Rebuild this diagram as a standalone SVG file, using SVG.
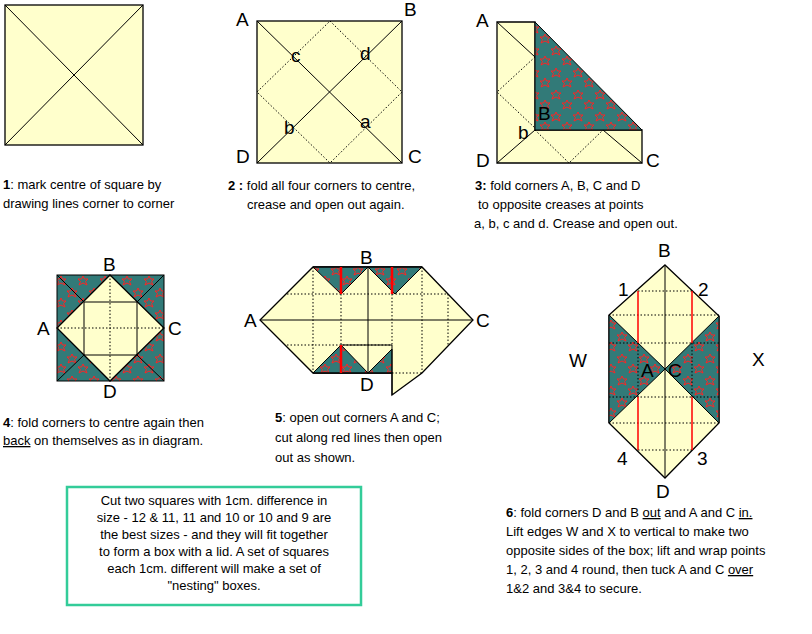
<svg xmlns="http://www.w3.org/2000/svg" width="812" height="634" viewBox="0 0 812 634">
<defs>
<pattern id="stars" width="22" height="22" patternUnits="userSpaceOnUse">
<rect width="22" height="22" fill="#327a78"/>
<path d="M6 2 L7.5 5 L11 5 L8.5 7.5 L10 11 L6 9 L2 11 L3.5 7.5 L1 5 L4.5 5 Z" fill="none" stroke="#f22" stroke-width="1"/>
<path d="M17 12 L18.5 15 L22 15 L19.5 17.5 L21 21 L17 19 L13 21 L14.5 17.5 L12 15 L15.5 15 Z" fill="none" stroke="#f22" stroke-width="1"/>
</pattern>
<style>
.p{fill:#ffffcc;stroke:#000;stroke-width:1.3}
.t{fill:url(#stars);stroke:#000;stroke-width:1}
.l{stroke:#000;stroke-width:1;fill:none}
.d{stroke:#000;stroke-width:1;stroke-dasharray:1.5 2;fill:none}
.r{stroke:#f00;stroke-width:2.5}
.rt{stroke:#f00;stroke-width:1.5}
text{font-family:"Liberation Sans",Arial,sans-serif;font-size:13px;fill:#000}
.big{font-size:19px}
</style>
</defs>

<g id="step1">
<rect class="p" x="5" y="5" width="138" height="140"/>
<path class="l" d="M5 5 L143 145 M143 5 L5 145"/>
<text x="3" y="189"><tspan font-weight="bold">1</tspan>: mark centre of square by</text>
<text x="3" y="208">drawing lines corner to corner</text>
</g>

<g id="step2">
<rect class="p" x="257" y="21" width="145" height="142"/>
<path class="l" d="M257 21 L402 163 M402 21 L257 163"/>
<path class="d" d="M330 21 L402 92 L330 163 L257 92 Z"/>
<text class="big" x="236" y="26">A</text><text class="big" x="404" y="16">B</text>
<text class="big" x="236" y="163">D</text><text class="big" x="408" y="163">C</text>
<text class="big" x="291" y="62">c</text><text class="big" x="360" y="60">d</text>
<text class="big" x="284" y="134">b</text><text class="big" x="360" y="128">a</text>
<text x="228" y="190"><tspan font-weight="bold">2 :</tspan> fold all four corners to centre,</text>
<text x="247" y="209">crease and open out again.</text>
</g>

<g id="step3">
<path class="p" d="M497 22 L535 22 L535 130 L642 130 L642 163 L497 163 Z"/>
<path class="t" d="M535 22 L642 130 L535 130 Z"/>
<path class="l" d="M497 22 L535 57 M497 163 L535 130 M603 130 L642 163"/>
<path class="d" d="M535 57 L497 92 L535 128 M535 130 L569 163 L603 130"/>
<text class="big" x="476" y="27">A</text><text class="big" x="538" y="120" font-size="20">B</text>
<text class="big" x="518" y="139">b</text>
<text class="big" x="476" y="167">D</text><text class="big" x="646" y="167">C</text>
<text x="475" y="190"><tspan font-weight="bold">3:</tspan> fold corners A, B, C and D</text>
<text x="478" y="209"> to opposite creases at points</text>
<text x="474" y="228">a, b, c and d. Crease and open out.</text>
</g>

<g id="step4">
<rect class="t" x="57" y="275" width="107" height="106"/>
<path class="p" d="M110 275 L164 328 L110 381 L57 328 Z"/>
<rect class="l" x="84" y="302" width="53" height="53"/>
<path class="l" d="M57 275 L84 302 M164 275 L137 302 M57 381 L84 355 M164 381 L137 355"/>
<path class="d" d="M110 275 L110 381 M57 328 L164 328"/>
<text class="big" x="103" y="271">B</text><text class="big" x="37" y="335">A</text>
<text class="big" x="168" y="335">C</text><text class="big" x="103" y="398">D</text>
<text x="3" y="427"><tspan font-weight="bold">4</tspan>: fold corners to centre again then</text>
<text x="3" y="445"><tspan text-decoration="underline">back</tspan> on themselves as in diagram.</text>
</g>

<g id="step5">
<path class="p" d="M313 267 L422 267 L473 320 L422 373 L392 395 L392 373 L313 373 L260 320 Z"/>
<path class="t" d="M313 267 L368 267 L341 294 Z M368 267 L422 267 L395 294 Z M313 373 L341 345 L368 373 Z M368 373 L392 349 L392 373 Z"/>
<path class="d" d="M287 294 L448 294 M287 345 L392 345 M313 267 L313 373 M341 294 L341 345 M392 294 L392 345 M422 267 L422 373 M448 294 L448 345 M392 373 L422 373"/>
<path class="l" d="M260 320 L473 320 M368 267 L368 373 M341 345 L392 345 M392 345 L392 395"/>
<path class="l" stroke-width="1.5" d="M313 267 L422 267 M313 373 L392 373"/>
<path class="r" d="M341 267 L341 294 M392 267 L392 294 M341 345 L341 373"/>
<text class="big" x="360" y="264">B</text><text class="big" x="244" y="327">A</text>
<text class="big" x="476" y="327">C</text><text class="big" x="360" y="391">D</text>
<text x="275" y="422"><tspan font-weight="bold">5</tspan>: open out corners A and C;</text>
<text x="275" y="442">cut along red lines then open</text>
<text x="275" y="462">out as shown.</text>
</g>

<g id="step6">
<path class="p" d="M665 265 L719 316 L719 423 L665 478 L609 423 L609 315 Z"/>
<path class="t" d="M609 315 L665 369 L609 423 Z M719 316 L665 369 L719 423 Z"/>
<path class="d" d="M638 291 L692 291 M609 315 L719 315 M609 343 L719 343 M609 397 L719 397 M609 423 L719 423 M638 450 L692 450 M638 343 L638 397 M692 343 L692 397"/>
<path class="l" d="M665 265 L665 478"/>
<path class="rt" d="M638 291 L638 343 M638 397 L638 450 M692 291 L692 343 M692 397 L692 450"/>
<text class="big" x="658" y="257">B</text>
<text class="big" x="618" y="296">1</text><text class="big" x="698" y="296">2</text>
<text class="big" x="617" y="465">4</text><text class="big" x="697" y="465">3</text>
<text class="big" x="569" y="367">W</text><text class="big" x="752" y="366">X</text>
<text class="big" x="641" y="377">A</text><text class="big" x="668" y="377">C</text>
<text class="big" x="656" y="498">D</text>
<text x="506" y="517"><tspan font-weight="bold">6</tspan>: fold corners D and B <tspan text-decoration="underline">out</tspan> and A and C <tspan text-decoration="underline">in.</tspan></text>
<text x="506" y="536">Lift edges W and X to vertical to make two</text>
<text x="506" y="555">opposite sides of the box; lift and wrap points</text>
<text x="506" y="574">1, 2, 3 and 4 round, then tuck A and C <tspan text-decoration="underline">over</tspan></text>
<text x="506" y="593">1&amp;2 and 3&amp;4 to secure.</text>
</g>

<g id="note">
<rect x="67" y="487" width="294" height="118" fill="#fff" stroke="#33cc99" stroke-width="2.5"/>
<g text-anchor="middle">
<text x="214" y="505">Cut two squares with 1cm. difference in</text>
<text x="214" y="522">size - 12 &amp; 11, 11 and 10 or 10 and 9 are</text>
<text x="214" y="539">the best sizes - and they will fit together</text>
<text x="214" y="556">to form a box with a lid. A set of squares</text>
<text x="214" y="573">each 1cm. different will make a set of</text>
<text x="214" y="590">"nesting" boxes.</text>
</g>
</g>
<g id="connectors"/>
</svg>
